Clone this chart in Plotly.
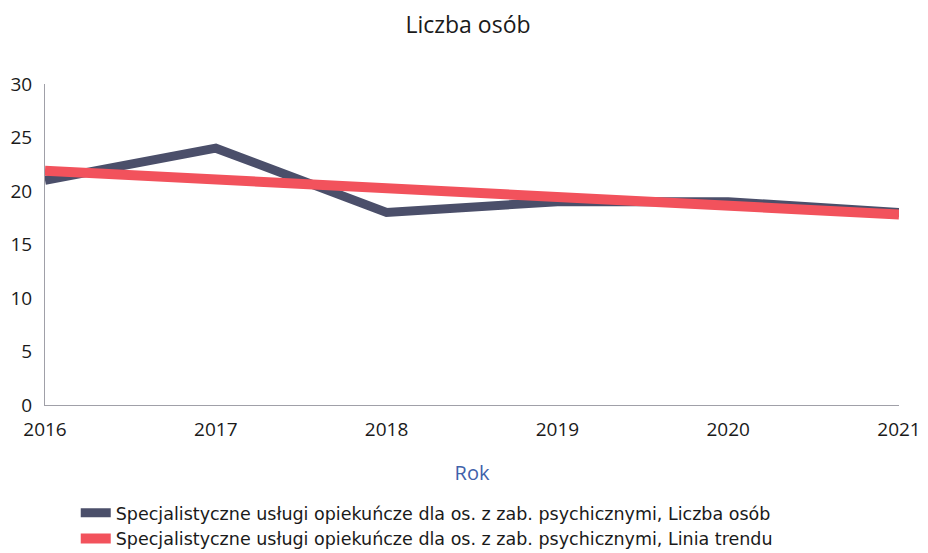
import plotly.graph_objects as go

years = [2016, 2017, 2018, 2019, 2020, 2021]
liczba_osob = [21, 24, 18, 19, 19, 18]
linia_trendu = [21.9, 21.1, 20.2, 19.4, 18.6, 17.8]
y_ticks = [0, 5, 10, 15, 20, 25, 30]

series_name = "Specjalistyczne usługi opiekuńcze dla os. z zab. psychicznymi"
font_family = "Open Sans, Noto Sans, Arial, sans-serif"
legend_family = "DejaVu Sans, Noto Sans, sans-serif"

fig = go.Figure()
fig.add_trace(
    go.Scatter(
        x=years,
        y=liczba_osob,
        mode="lines",
        name=f"{series_name}, Liczba osób",
        line={"color": "#4b4f6a", "width": 9},
    )
)
fig.add_trace(
    go.Scatter(
        x=years,
        y=linia_trendu,
        mode="lines",
        name=f"{series_name}, Linia trendu",
        line={"color": "#f2525c", "width": 10},
    )
)

fig.update_xaxes(
    range=[2016, 2021],
    tickvals=years,
    ticktext=[str(y) for y in years],
    showgrid=False,
    zeroline=False,
    showline=True,
    linecolor="#a0a0a8",
    linewidth=1,
    ticks="",
    automargin=False,
    ticklabelstandoff=7,
    tickfont={"size": 19, "color": "#1a1a1a", "family": font_family},
    title={"text": "Rok", "font": {"size": 20, "color": "#3f62aa", "family": font_family}, "standoff": 25},
)
fig.update_yaxes(
    range=[0, 30],
    tickvals=y_ticks,
    showgrid=False,
    zeroline=False,
    showline=True,
    linecolor="#a0a0a8",
    linewidth=1,
    ticks="",
    automargin=False,
    ticklabelstandoff=8,
    tickfont={"size": 19, "color": "#1a1a1a", "family": font_family},
)

# the page has an 8px body margin, so the figure is drawn a bit smaller
fig.update_layout(
    width=920,
    height=545,
    title={
        "text": "Liczba osób",
        "x": 0.5,
        "xanchor": "center",
        "y": 0.968,
        "yanchor": "middle",
        "font": {"size": 23, "color": "#1a1a1a", "family": font_family},
    },
    plot_bgcolor="white",
    paper_bgcolor="white",
    showlegend=True,
    legend={
        "orientation": "v",
        "x": 0.036,
        "xanchor": "left",
        "y": -0.28,
        "yanchor": "top",
        "font": {"size": 17.5, "color": "#1a1a1a", "family": legend_family},
        "tracegroupgap": 0,
        "itemwidth": 30,
    },
    margin={"l": 37, "r": 29, "t": 76, "b": 148, "autoexpand": False},
)

fig.write_html("out.html")
